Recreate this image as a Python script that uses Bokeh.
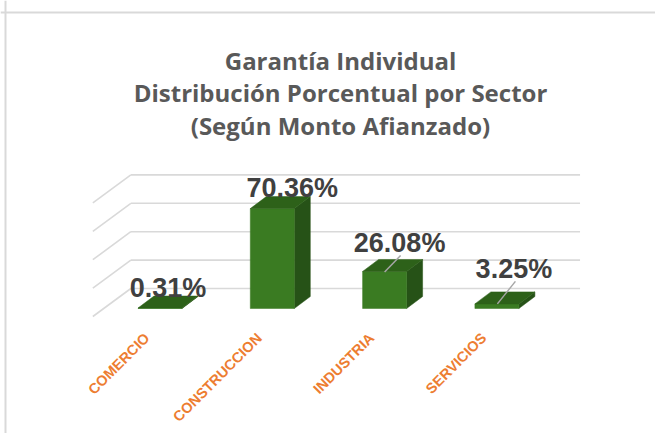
from bokeh.plotting import figure
from bokeh.models import Range1d, Label, Span
from bokeh.embed import file_html
from bokeh.resources import INLINE
from bokeh.core.properties import value

# ---------------- data ----------------
categories = ["COMERCIO", "CONSTRUCCION", "INDUSTRIA", "SERVICIOS"]
values = [0.31, 70.36, 26.08, 3.25]
value_labels = ["0.31%", "70.36%", "26.08%", "3.25%"]
grid_values = [0, 20, 40, 60, 80]
title_lines = ["Garantía Individual",
               "Distribución Porcentual por Sector",
               "(Según Monto Afianzado)"]

# ---------------- layout / style ----------------
W, H = 655, 433
PX_CAT = 112.3      # pixels per category
PX_PCT = 1.42       # pixels per percent
X0_PX = 159.5       # frame px of category 0 (front face plane)
Y0_PX = 308.0       # frame px from top of value 0 (front face plane)
HALF_W_PX = 22.0
DEPTH = (16.0, -12.0)      # bar depth offset (px, screen)
WALL = (27.0, -20.0)       # back wall offset from bar front plane
FRONT = (-11.0, 8.0)       # floor front edge offset
LABEL_OFF = [(8, -20), (20, -21), (15, -28), (17, -35)]
LEADERS = [None, None, ((0, 0.5), (16, -16)), ((0.5, 0), (18.5, -22.5))]

FRONT_C = "#3A7B22"
TOP_C = "#2D6119"
SIDE_C = "#265217"
GRID_C = "#D9D9D9"

def dx(px):
    return px / PX_CAT

def dy(px):
    return -px / PX_PCT

p = figure(width=W, height=H, output_backend="svg", toolbar_location=None,
           x_axis_type=None, y_axis_type=None,
           x_range=Range1d(-X0_PX / PX_CAT, (W - X0_PX) / PX_CAT),
           y_range=Range1d((Y0_PX - H) / PX_PCT, Y0_PX / PX_PCT),
           min_border=0, outline_line_color=None, background_fill_color="white")
p.grid.visible = False

# border (top & left)
p.add_layout(Span(location=H - 12, dimension="width", location_units="screen",
                  line_color="#D9D9D9", line_width=2))
p.add_layout(Span(location=5, dimension="height", location_units="screen",
                  line_color="#D9D9D9", line_width=2))

# back wall gridlines and side wall diagonals
n = len(categories)
gx0, gx1, gy0, gy1 = [], [], [], []
for g in grid_values:
    gx0.append(-0.5 + dx(WALL[0])); gx1.append(n - 0.5 + dx(WALL[0]))
    gy0.append(g + dy(WALL[1])); gy1.append(g + dy(WALL[1]))
    gx0.append(-0.5 + dx(WALL[0])); gx1.append(-0.5 + dx(FRONT[0]))
    gy0.append(g + dy(WALL[1])); gy1.append(g + dy(FRONT[1]))
p.segment(gx0, gy0, gx1, gy1, line_color=GRID_C, line_width=1.6)

# bars
hw = dx(HALF_W_PX)
ddx, ddy = dx(DEPTH[0]), dy(DEPTH[1])
fx, fy, tx, ty, sx, sy = [], [], [], [], [], []
for i, v in enumerate(values):
    fx.append([i - hw, i + hw, i + hw, i - hw]); fy.append([0, 0, v, v])
    tx.append([i - hw, i + hw, i + hw + ddx, i - hw + ddx])
    ty.append([v, v, v + ddy, v + ddy])
    sx.append([i + hw, i + hw + ddx, i + hw + ddx, i + hw])
    sy.append([0, ddy, v + ddy, v])
p.patches(sx, sy, fill_color=SIDE_C, line_color=SIDE_C, line_width=0.5)
p.patches(fx, fy, fill_color=FRONT_C, line_color=FRONT_C, line_width=0.5)
p.patches(tx, ty, fill_color=TOP_C, line_color=TOP_C, line_width=0.5)

# leader lines
lx0, ly0, lx1, ly1 = [], [], [], []
for i, (v, ld) in enumerate(zip(values, LEADERS)):
    if ld is None:
        continue
    (a, b), (c, d) = ld
    lx0.append(i + dx(a)); ly0.append(v + dy(b))
    lx1.append(i + dx(c)); ly1.append(v + dy(d))
p.segment(lx0, ly0, lx1, ly1, line_color="#A6A6A6", line_width=1.5)

# data labels
p.text(x=list(range(n)), y=values, text=value_labels,
       x_offset=[o[0] for o in LABEL_OFF], y_offset=[o[1] for o in LABEL_OFF],
       text_align="center", text_baseline="alphabetic",
       text_font=value("Liberation Sans"), text_font_style="bold",
       text_font_size="27px", text_color="#404040")

# category labels
p.text(x=list(range(n)), y=[0] * n, text=categories,
       x_offset=-13, y_offset=27, angle=0.785398,
       text_align="right", text_baseline="middle",
       text_font=value("Liberation Sans"), text_font_style="bold",
       text_font_size="14.5px", text_color="#ED7D31")

# title
for k, line in enumerate(title_lines):
    p.add_layout(Label(x=340, y=H - (60 + 32.4 * k), x_units="screen", y_units="screen",
                       text=line, text_align="center", text_baseline="alphabetic",
                       text_font="Open Sans", text_font_style="bold",
                       text_font_size="24px", text_color="#595959"))

open("out.html", "w").write(file_html(p, INLINE))
